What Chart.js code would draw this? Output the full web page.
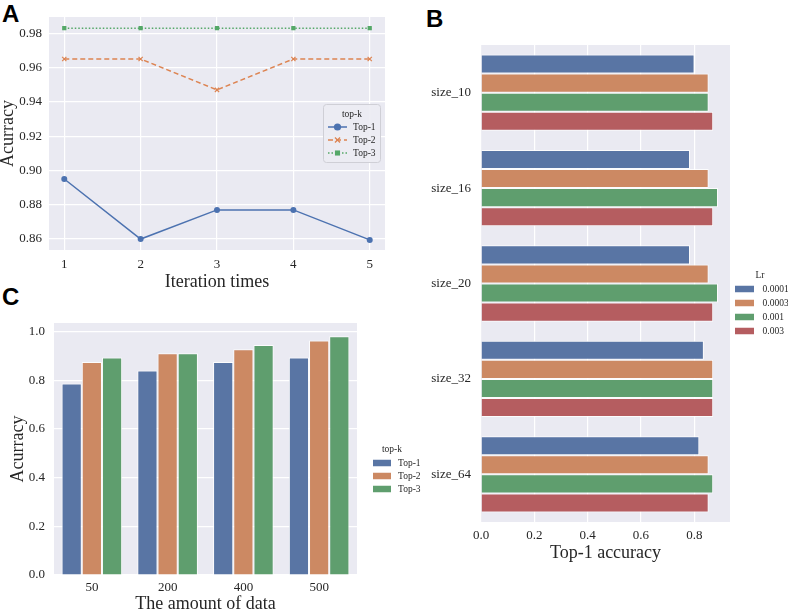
<!DOCTYPE html>
<html>
<head>
<meta charset="utf-8">
<script src="https://cdn.jsdelivr.net/npm/chart.js@4.4.1/dist/chart.umd.min.js"></script>
<style>
  body { margin: 0; background: #fff; width: 788px; height: 611px; overflow: hidden; position: relative; }
  canvas { position: absolute; }
  .tag { position: absolute; font-family: 'Liberation Sans', Arial, sans-serif; font-weight: bold; font-size: 24px; color: #000; line-height: 1; }
</style>
</head>
<body>
<div class="tag" style="left:2px;top:2px">A</div>
<div class="tag" style="left:426px;top:7px">B</div>
<div class="tag" style="left:2px;top:285px">C</div>
<canvas id="chartA" width="400" height="292" style="left:0;top:0"></canvas>
<canvas id="chartC" width="430" height="330" style="left:0;top:290px"></canvas>
<canvas id="chartB" width="388" height="570" style="left:400px;top:0"></canvas>
<script>
// A: accuracy per iteration
const iterations = [1, 2, 3, 4, 5];
const lineTop1 = [0.895, 0.860, 0.877, 0.877, 0.8595];
const lineTop2 = [0.965, 0.965, 0.947, 0.965, 0.965];
const lineTop3 = [0.983, 0.983, 0.983, 0.983, 0.983];
const ticksA = [0.86, 0.88, 0.90, 0.92, 0.94, 0.96, 0.98];

// B: top-1 accuracy by batch size and learning rate
const sizes = ['size_10', 'size_16', 'size_20', 'size_32', 'size_64'];
const lrLabels = ['0.0001', '0.0003', '0.001', '0.003'];
const lr0001 = [0.801, 0.784, 0.784, 0.836, 0.819];
const lr0003 = [0.854, 0.854, 0.854, 0.871, 0.854];
const lr001 = [0.854, 0.889, 0.889, 0.871, 0.871];
const lr003 = [0.871, 0.871, 0.871, 0.871, 0.854];
const ticksB = [0, 0.2, 0.4, 0.6, 0.8];

// C: accuracy by amount of data
const amounts = ['50', '200', '400', '500'];
const barTop1 = [0.787, 0.840, 0.875, 0.893];
const barTop2 = [0.875, 0.911, 0.927, 0.963];
const barTop3 = [0.893, 0.911, 0.945, 0.981];
const ticksC = [0, 0.2, 0.4, 0.6, 0.8, 1.0];

const TEXT = '#262626';
const SERIF = "'Liberation Serif', 'Times New Roman', serif";
Chart.defaults.font.family = SERIF;
Chart.defaults.color = TEXT;
Chart.defaults.animation = false;
Chart.defaults.responsive = false;

const fixWidth = w => s => { s.width = w; };
const fixHeight = h => s => { s.height = h; };
const useTicks = list => s => { s.ticks = list.map(v => ({ value: v })); };

// grey plot background
const bgPlugin = {
    id: 'bg',
    beforeDraw(chart) {
        const a = chart.chartArea;
        chart.ctx.save();
        chart.ctx.fillStyle = '#EAEAF2';
        chart.ctx.fillRect(a.left, a.top, a.right - a.left, a.bottom - a.top);
        chart.ctx.restore();
    }
};

function drawMarker(ctx, style, x, y, r, color) {
    ctx.fillStyle = color;
    ctx.strokeStyle = color;
    ctx.beginPath();
    if (style === 'circle') {
        ctx.arc(x, y, r, 0, Math.PI * 2);
        ctx.fill();
    } else if (style === 'rect') {
        const s = r * Math.SQRT1_2;
        ctx.fillRect(x - s, y - s, 2 * s, 2 * s);
    } else {
        const s = r * Math.SQRT1_2;
        ctx.lineWidth = 1.3;
        ctx.moveTo(x - s, y - s); ctx.lineTo(x + s, y + s);
        ctx.moveTo(x - s, y + s); ctx.lineTo(x + s, y - s);
        ctx.stroke();
    }
}

// seaborn style legend, placed by hand
const sbLegend = {
    id: 'sbLegend',
    afterDraw(chart, args, o) {
        if (!o.title) return;
        const ctx = chart.ctx;
        ctx.save();
        if (o.box) {
            const [x, y, w, h] = o.box;
            ctx.beginPath();
            ctx.roundRect(x, y, w, h, 3);
            ctx.fillStyle = 'rgba(236,236,243,0.9)';
            ctx.fill();
            ctx.strokeStyle = '#cfcfd6';
            ctx.lineWidth = 1;
            ctx.stroke();
        }
        ctx.font = o.size + 'px ' + SERIF;
        ctx.textBaseline = 'middle';
        ctx.textAlign = 'center';
        ctx.fillStyle = TEXT;
        ctx.fillText(o.title, o.titleX, o.titleY);
        ctx.textAlign = 'left';
        chart.data.datasets.forEach((ds, i) => {
            const y = o.itemY + i * o.step;
            if (o.kind === 'line') {
                ctx.strokeStyle = ds.borderColor;
                ctx.lineWidth = 1.5;
                ctx.setLineDash(ds.borderDash || []);
                ctx.beginPath();
                ctx.moveTo(o.symX, y);
                ctx.lineTo(o.symX + o.symW, y);
                ctx.stroke();
                ctx.setLineDash([]);
                drawMarker(ctx, ds.pointStyle, o.symX + o.symW / 2, y, ds.pointRadius + 0.6, ds.borderColor);
            } else {
                ctx.fillStyle = ds.backgroundColor;
                ctx.fillRect(o.symX, y - o.symH / 2, o.symW, o.symH);
            }
            ctx.fillStyle = TEXT;
            ctx.fillText(ds.label, o.textX, y);
        });
        ctx.restore();
    }
};

const gridWhite = { color: '#ffffff', lineWidth: 1.2, drawTicks: false };
const gridNone = { display: false, drawTicks: false };

// ---------- A ----------
const toPoints = vals => iterations.map((x, i) => ({ x: x, y: vals[i] }));
new Chart(document.getElementById('chartA'), {
    type: 'line',
    data: {
        datasets: [
            { label: 'Top-1', data: toPoints(lineTop1), borderColor: '#4C72B0', backgroundColor: '#4C72B0',
              borderWidth: 1.5, pointStyle: 'circle', pointRadius: 3, pointBorderWidth: 0 },
            { label: 'Top-2', data: toPoints(lineTop2), borderColor: '#DD8452', backgroundColor: '#DD8452',
              borderWidth: 1.5, borderDash: [5, 3], pointStyle: 'crossRot', pointRadius: 3, pointBorderWidth: 1.2 },
            { label: 'Top-3', data: toPoints(lineTop3), borderColor: '#55A868', backgroundColor: '#55A868',
              borderWidth: 1.5, borderDash: [1.5, 2], pointStyle: 'rect', pointRadius: 3, pointBorderWidth: 0 }
        ]
    },
    options: {
        layout: { padding: { top: 17, right: 15, left: 0, bottom: 0 } },
        scales: {
            x: {
                type: 'linear', min: 0.8, max: 5.2,
                afterFit: fixHeight(42), afterBuildTicks: useTicks(iterations),
                grid: gridWhite, border: { display: false },
                ticks: { padding: 7, font: { size: 13 } },
                title: { display: true, text: 'Iteration times', font: { size: 18, lineHeight: 1 }, padding: { top: 0, bottom: 1 } }
            },
            y: {
                min: 0.8536, max: 0.9895,
                afterFit: fixWidth(49), afterBuildTicks: useTicks(ticksA),
                grid: gridWhite, border: { display: false },
                ticks: { padding: 7, font: { size: 13 }, callback: v => v.toFixed(2) },
                title: { display: true, text: 'Acurracy', font: { size: 18, lineHeight: 1 }, padding: { top: -1, bottom: 0 } }
            }
        },
        plugins: {
            legend: { display: false }, tooltip: { enabled: false },
            sbLegend: { title: 'top-k', kind: 'line', box: [323.5, 104.5, 57, 58], size: 9.5,
                        titleX: 352, titleY: 114, itemY: 127, step: 13, symX: 328, symW: 19, textX: 353 }
        }
    },
    plugins: [bgPlugin, sbLegend]
});

// ---------- B ----------
const barColors = ['#5975A4', '#CC8963', '#5F9E6E', '#B55D60'];
const lrSeries = [lr0001, lr0003, lr001, lr003];
new Chart(document.getElementById('chartB'), {
    type: 'bar',
    data: {
        labels: sizes,
        datasets: lrSeries.map((vals, i) => ({
            label: lrLabels[i], data: vals, backgroundColor: barColors[i],
            borderColor: 'rgba(255,255,255,0.85)', borderWidth: 1,
            barPercentage: 1, categoryPercentage: 0.8
        }))
    },
    options: {
        indexAxis: 'y',
        layout: { padding: { top: 45, right: 58, left: 0, bottom: 0 } },
        scales: {
            x: {
                min: 0, max: 0.934,
                afterFit: fixHeight(48), afterBuildTicks: useTicks(ticksB),
                grid: gridWhite, border: { display: false },
                ticks: { padding: 6, font: { size: 13 }, callback: v => v.toFixed(1) },
                title: { display: true, text: 'Top-1 accuracy', font: { size: 18, lineHeight: 1 }, padding: { top: 0, bottom: 8 } }
            },
            y: {
                afterFit: fixWidth(81),
                grid: gridNone, border: { display: false },
                ticks: { padding: 10, font: { size: 13 } }
            }
        },
        plugins: {
            legend: { display: false }, tooltip: { enabled: false },
            sbLegend: { title: 'Lr', kind: 'box', size: 9.5,
                        titleX: 360, titleY: 275, itemY: 289, step: 14, symX: 335, symW: 19, symH: 6.5, textX: 362.5 }
        }
    },
    plugins: [bgPlugin, sbLegend]
});

// ---------- C ----------
const cSeries = [barTop1, barTop2, barTop3];
const cLabels = ['Top-1', 'Top-2', 'Top-3'];
new Chart(document.getElementById('chartC'), {
    type: 'bar',
    data: {
        labels: amounts,
        datasets: cSeries.map((vals, i) => ({
            label: cLabels[i], data: vals, backgroundColor: barColors[i],
            borderColor: 'rgba(255,255,255,0.85)', borderWidth: 1,
            barPercentage: 1, categoryPercentage: 0.8
        }))
    },
    options: {
        layout: { padding: { top: 33, right: 73, left: 0, bottom: 0 } },
        scales: {
            x: {
                afterFit: fixHeight(45),
                grid: gridNone, border: { display: false },
                ticks: { padding: 5, font: { size: 13 } },
                title: { display: true, text: 'The amount of data', font: { size: 18, lineHeight: 1 }, padding: { top: 0, bottom: 7 } }
            },
            y: {
                min: 0, max: 1.035,
                afterFit: fixWidth(54), afterBuildTicks: useTicks(ticksC),
                grid: gridWhite, border: { display: false },
                ticks: { padding: 9, font: { size: 13 }, callback: v => v.toFixed(1) },
                title: { display: true, text: 'Acurracy', font: { size: 18, lineHeight: 1 }, padding: { top: 9, bottom: 0 } }
            }
        },
        plugins: {
            legend: { display: false }, tooltip: { enabled: false },
            sbLegend: { title: 'top-k', kind: 'box', size: 9.5,
                        titleX: 392, titleY: 159, itemY: 173, step: 13, symX: 373, symW: 18, symH: 6.5, textX: 398 }
        }
    },
    plugins: [bgPlugin, sbLegend]
});
</script>
</body>
</html>
